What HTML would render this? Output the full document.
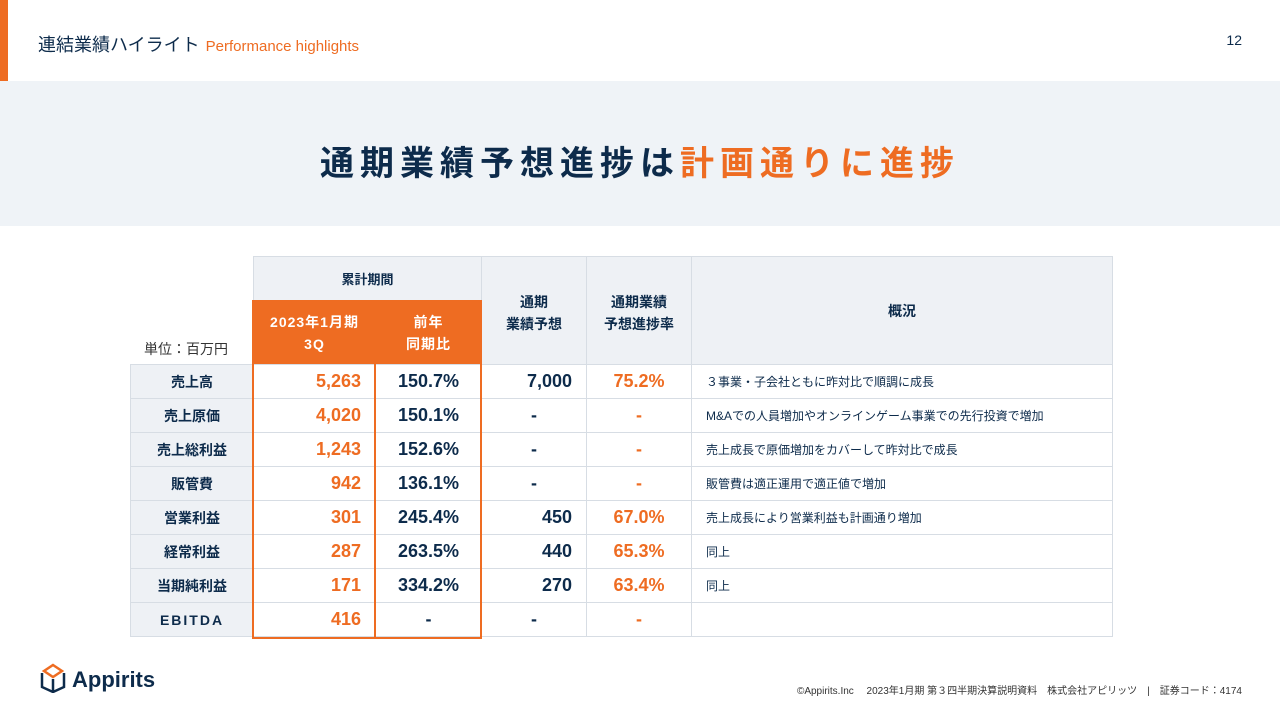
<!DOCTYPE html>
<html><head><meta charset="utf-8"><style>
*{margin:0;padding:0;box-sizing:border-box}
body{width:1280px;height:720px;position:relative;background:#fff;font-family:"Liberation Sans","Noto Sans CJK JP",sans-serif;color:#0d2b4b;overflow:hidden}
.bar{position:absolute;left:0;top:0;width:8px;height:81px;background:#ee6c22}
.hd{position:absolute;left:38px;top:31px;font-size:18px;color:#0d2b4b}
.hd span{color:#ee6c22;font-size:15px;margin-left:6px}
.pg{position:absolute;right:38px;top:32px;font-size:14px}
.band{position:absolute;left:0;top:81px;width:1280px;height:145px;background:#eff3f7}
.title{position:absolute;left:0;width:1280px;top:136px;text-align:center;font-size:34px;font-weight:bold;letter-spacing:6px}
.title span{color:#ee6c22}
table{position:absolute;left:130px;top:256px;border-collapse:collapse;table-layout:fixed}
td{border:1px solid #d7dde4;font-size:14px;text-align:center;height:34px;font-weight:bold}
.g{background:#eef1f5}
.o{background:#ee6c22;color:#fff;font-size:14px;letter-spacing:1px;line-height:22px}
.n{font-size:18px;font-weight:600}
.or{color:#ee6c22}
.r{text-align:right;padding-right:14px}
.t{text-align:left;padding-left:14px;font-size:12px;font-weight:normal}
.unit{position:absolute;left:144px;top:339px;font-size:14px;color:#333;z-index:5}
.box{position:absolute;border:2px solid #ee6c22}
.logo{position:absolute;left:40px;top:663px;font-size:22px;font-weight:bold;color:#0d2b4b}
.ft{position:absolute;right:38px;top:682px;font-size:10px;color:#333}
</style></head><body>
<div class="bar"></div>
<div class="hd">連結業績ハイライト<span>Performance highlights</span></div>
<div class="pg">12</div>
<div class="band"></div>
<div class="title">通期業績予想進捗は<span>計画通りに進捗</span></div>
<table>
<colgroup><col style="width:123px"><col style="width:122px"><col style="width:106px"><col style="width:105px"><col style="width:105px"><col style="width:421px"></colgroup>
<tr style="height:44px"><td style="border:none;border-bottom:1px solid #d7dde4;background:#fff" rowspan="2"></td><td class="g" colspan="2" style="font-size:13px">累計期間</td><td class="g" rowspan="2" style="line-height:22px;vertical-align:top;padding-top:34px">通期<br>業績予想</td><td class="g" rowspan="2" style="line-height:22px;vertical-align:top;padding-top:34px">通期業績<br>予想進捗率</td><td class="g" rowspan="2">概況</td></tr>
<tr style="height:64px"><td class="o">2023年1月期<br>3Q</td><td class="o">前年<br>同期比</td></tr>
<tr><td class="g">売上高</td><td class="n or r">5,263</td><td class="n">150.7%</td><td class="n r">7,000</td><td class="n or">75.2%</td><td class="t">３事業・子会社ともに昨対比で順調に成長</td></tr>
<tr><td class="g">売上原価</td><td class="n or r">4,020</td><td class="n">150.1%</td><td class="n">-</td><td class="n or">-</td><td class="t">M&amp;Aでの人員増加やオンラインゲーム事業での先行投資で増加</td></tr>
<tr><td class="g">売上総利益</td><td class="n or r">1,243</td><td class="n">152.6%</td><td class="n">-</td><td class="n or">-</td><td class="t">売上成長で原価増加をカバーして昨対比で成長</td></tr>
<tr><td class="g">販管費</td><td class="n or r">942</td><td class="n">136.1%</td><td class="n">-</td><td class="n or">-</td><td class="t">販管費は適正運用で適正値で増加</td></tr>
<tr><td class="g">営業利益</td><td class="n or r">301</td><td class="n">245.4%</td><td class="n r">450</td><td class="n or">67.0%</td><td class="t">売上成長により営業利益も計画通り増加</td></tr>
<tr><td class="g">経常利益</td><td class="n or r">287</td><td class="n">263.5%</td><td class="n r">440</td><td class="n or">65.3%</td><td class="t">同上</td></tr>
<tr><td class="g">当期純利益</td><td class="n or r">171</td><td class="n">334.2%</td><td class="n r">270</td><td class="n or">63.4%</td><td class="t">同上</td></tr>
<tr><td class="g" style="letter-spacing:2px">EBITDA</td><td class="n or r">416</td><td class="n">-</td><td class="n">-</td><td class="n or">-</td><td class="t"></td></tr>
</table>
<div class="unit">単位：百万円</div>
<div class="box" style="left:252px;top:300px;width:124px;height:339px"></div>
<div class="box" style="left:374px;top:300px;width:108px;height:339px"></div>
<div class="logo"><svg width="26" height="30" viewBox="0 0 26 30" style="vertical-align:-6px;margin-right:6px"><path d="M13 2 L22 8 L13 14 L4 8Z" fill="none" stroke="#ee6c22" stroke-width="2.5"/><path d="M2 10 L2 24 L13 29 L24 24 L24 10 M13 16 L13 29" fill="none" stroke="#0d2b4b" stroke-width="2.5"/></svg>Appirits</div>
<div class="ft">©Appirits.Inc　 2023年1月期 第３四半期決算説明資料　株式会社アピリッツ　|　証券コード：4174</div>
</body></html>
